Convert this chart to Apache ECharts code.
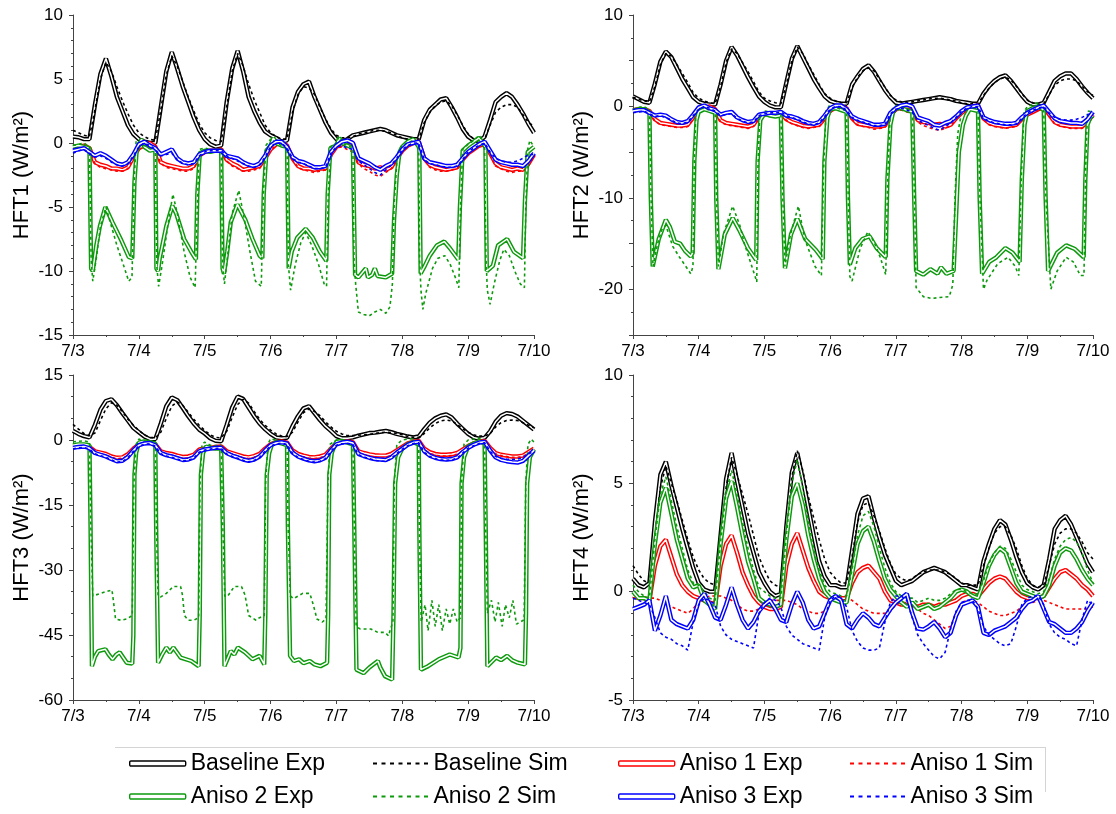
<!DOCTYPE html>
<html>
<head>
<meta charset="utf-8">
<script src="https://cdn.jsdelivr.net/npm/echarts@6/dist/echarts.min.js"></script>
<style>html,body{margin:0;padding:0;background:#fff}#c{width:1116px;height:814px}</style>
</head>
<body>
<div id="c"></div>
<script>
// ---- tick labels ----
const dayLabels = ['7/3','7/4','7/5','7/6','7/7','7/8','7/9','7/10'];
// time grid: hours since 7/3 00:00, every 2 h (85 samples)
const hours = Array.from({length: 85}, (_, i) => i * 2);

// ================= HFT1 =================
const p1BaseExp = [
0.5,0.45,0.3,0.3,3.0,5.4,6.6,5.2,3.6,2.5,1.4,0.7,
0.3,0.1,0.0,0.0,2.8,5.6,7.1,5.8,4.4,3.2,2.0,1.0,
0.3,-0.1,-0.3,-0.2,3.2,5.8,7.2,5.6,3.6,2.5,1.6,0.9,
0.6,0.4,0.1,0.2,2.8,4.0,4.6,4.8,3.6,2.6,1.6,0.8,
0.3,0.1,0.3,0.6,0.7,0.8,0.9,1.0,1.1,1.0,0.8,0.6,
0.5,0.4,0.3,0.3,1.8,2.6,3.0,3.4,3.5,2.8,2.0,1.1,
0.5,0.2,0.1,0.5,1.8,3.2,3.6,3.9,3.6,3.0,2.3,1.5,
0.8];
const p1BaseSim = [
1.0,0.8,0.6,0.5,2.6,5.0,6.3,5.6,4.4,3.3,2.3,1.4,
0.8,0.5,0.3,0.2,2.6,5.3,6.8,6.0,4.8,3.6,2.5,1.5,
0.8,0.4,0.2,0.1,2.8,5.6,7.0,6.0,4.6,3.4,2.4,1.4,
0.8,0.5,0.3,0.3,2.4,3.8,4.4,4.3,3.8,2.8,1.9,1.1,
0.6,0.4,0.4,0.5,0.7,0.8,0.9,1.0,1.0,0.9,0.8,0.6,
0.4,0.3,0.3,0.3,1.6,2.4,2.9,3.2,3.3,2.9,2.2,1.4,
0.7,0.3,0.1,0.3,1.4,2.4,2.8,3.0,3.0,2.8,2.2,1.6,
1.3];
const p1A1Exp = [
-0.3,-0.3,-0.2,-0.4,-1.5,-1.7,-1.8,-2.0,-2.0,-2.1,-1.9,-1.1,
-0.4,-0.2,0.0,-0.3,-1.5,-1.7,-1.8,-1.9,-2.0,-2.0,-1.8,-1.0,
-0.7,-0.6,-0.6,-0.5,-1.3,-1.6,-1.8,-2.1,-2.0,-1.9,-1.8,-1.2,
-0.5,-0.1,0.0,-0.2,-1.2,-1.8,-2.0,-2.0,-2.1,-2.0,-2.0,-0.9,
-0.3,-0.1,0.1,0.0,-1.5,-1.7,-1.8,-2.0,-1.9,-2.1,-1.9,-1.2,
-0.6,-0.2,0.0,0.1,-1.2,-1.7,-1.9,-2.0,-2.1,-2.0,-1.9,-1.3,
-0.8,-0.5,-0.2,-0.1,-0.8,-1.6,-1.9,-2.0,-2.1,-2.0,-2.1,-1.6,
-0.9];
const p1A1Sim = [
-0.5,-0.4,-0.3,-0.5,-1.6,-1.9,-2.0,-2.1,-2.2,-2.2,-2.0,-1.2,
-0.5,-0.3,-0.1,-0.4,-1.6,-1.9,-2.0,-2.1,-2.2,-2.2,-2.0,-1.1,
-0.7,-0.6,-0.5,-0.5,-1.4,-1.8,-2.0,-2.2,-2.2,-2.1,-2.0,-1.3,
-0.5,-0.2,-0.1,-0.3,-1.3,-1.9,-2.1,-2.2,-2.3,-2.2,-2.1,-1.0,
-0.4,-0.3,-0.5,-0.7,-1.6,-2.0,-2.2,-2.5,-2.6,-2.3,-2.0,-1.3,
-0.6,-0.3,-0.1,0.0,-1.3,-1.9,-2.1,-2.2,-2.2,-2.1,-2.0,-1.4,
-0.8,-0.5,-0.3,-0.2,-0.9,-1.8,-2.0,-2.2,-2.3,-2.2,-2.2,-1.8,
-1.0];
const p1A3Exp = [
-0.6,-0.5,-0.4,-0.7,-1.0,-0.8,-1.0,-1.3,-1.6,-1.7,-1.5,-0.9,
-0.1,0.1,-0.2,-0.4,-0.9,-0.7,-0.5,-1.2,-1.5,-1.6,-1.5,-0.9,
-0.7,-0.6,-0.6,-0.6,-1.0,-1.1,-1.2,-1.5,-1.7,-1.8,-1.6,-1.0,
-0.2,0.1,0.1,-0.3,-1.1,-1.4,-1.5,-1.7,-1.9,-1.9,-1.8,-0.7,
-0.2,0.1,0.2,0.0,-1.2,-1.4,-1.6,-1.9,-2.1,-1.8,-1.6,-1.1,
-0.5,-0.1,0.0,0.1,-1.2,-1.5,-1.6,-1.7,-1.8,-1.8,-1.7,-1.2,
-0.7,-0.4,-0.1,0.1,-0.6,-1.3,-1.5,-1.6,-1.7,-1.7,-1.8,-1.4,
-0.8];
const p1A3Sim = [
-0.8,-0.6,-0.5,-0.8,-1.1,-1.0,-1.2,-1.5,-1.7,-1.8,-1.6,-1.0,
-0.3,0.0,-0.2,-0.5,-1.0,-0.9,-0.8,-1.3,-1.6,-1.7,-1.6,-1.0,
-0.7,-0.6,-0.6,-0.6,-1.0,-1.2,-1.4,-1.6,-1.8,-1.9,-1.7,-1.1,
-0.3,0.0,0.0,-0.4,-1.2,-1.5,-1.6,-1.8,-2.0,-2.0,-1.9,-0.8,
-0.3,-0.2,-0.4,-0.5,-1.4,-1.7,-2.0,-2.3,-2.5,-2.1,-1.7,-1.2,
-0.5,-0.2,0.0,0.0,-1.3,-1.6,-1.7,-1.8,-1.9,-1.9,-1.8,-1.3,
-0.7,-0.4,-0.2,0.0,-0.7,-1.2,-1.4,-1.5,-1.5,-1.4,-1.2,-0.9,
-0.9];
// Aniso 2 in HFT1: [hour, value] vertices
const p1A2Exp = [[0,-0.3],[2,-0.2],[4,-0.3],[6,-0.4],[6.6,-9.8],[7.2,-10],[8.5,-8.0],[9.8,-6.5],[11.8,-5.0],[14.4,-6.2],[17.6,-7.6],[20.3,-8.9],[21.6,-9.0],[22.4,-3],[23.2,-0.6],
[24,-0.2],[25,0.3],[26,-0.3],[28,-0.6],[30,-0.5],[30.4,-9.8],[31,-10],[31.6,-9],[34,-6.5],[36.2,-4.9],[37.6,-5.5],[40.5,-7.5],[43.1,-8.5],[44.8,-9.1],[45.3,-4],[46.2,-0.8],[48,-0.6],
[50,-0.7],[52,-0.6],[54,-0.6],[54.5,-9.8],[55,-10.2],[56.2,-8.5],[57.5,-6.2],[59.9,-4.8],[62.8,-6.0],[65.4,-7.5],[68,-8.8],[69,-9.0],[69.5,-4],[70.5,-0.6],[72,-0.2],[73,0.4],[74,0.0],[76,-0.2],[78,-0.3],
[78.1,-0.4],[78.6,-9.8],[79.7,-8.5],[81.7,-7.4],[84.8,-6.7],[87.4,-7.4],[90,-8.5],[92.3,-9.2],[92.8,-4],[93.8,-0.4],[96,-0.2],[97,0.4],[98,0],[100,-0.2],[102,-0.4],
[102.3,-0.5],[102.8,-10.3],[104,-10.5],[106.7,-9.8],[107.5,-10.5],[109,-10.3],[110,-9.8],[111,-10.4],[114,-10.5],[116.3,-10.2],[117,-6],[118,-2.5],[119,-0.7],[120,-0.3],[122,0.1],[124,0.3],[126,-0.3],
[126.2,-0.5],[126.7,-10.2],[128.2,-9.6],[130,-8.8],[132.6,-8.0],[135.3,-7.7],[137.3,-8.2],[140.4,-9.1],[141,-5],[142,-0.6],[144,-0.2],[146,0.1],[148,0.4],[150,-0.2],
[150.3,-0.4],[150.8,-10],[153,-9.6],[154.9,-8.0],[158.2,-7.5],[160.7,-8.5],[164,-9.0],[164.7,-4.5],[165.7,-0.7],[168,-0.3]];
const p1A2Sim = [[0,-0.2],[2,-0.1],[4,0],[6,-0.3],[6.6,-9],[7.2,-10.8],[8.5,-9],[10,-6.5],[12,-5.0],[14,-6.5],[16,-8],[18.5,-9.6],[20.3,-10.8],[21.5,-10.5],[22.3,-3],[23,0.2],[24,0],
[26,-0.2],[28,-0.4],[30,-0.4],[30.5,-9.5],[31.2,-11.2],[32.5,-9.5],[34.5,-6.5],[36.4,-4.0],[38,-5.5],[40.5,-8.5],[42.7,-10.5],[44.5,-11.3],[45.3,-5],[46,-0.5],[48,-0.4],
[50,-0.5],[52,-0.6],[54,-0.5],[54.5,-9.5],[55.2,-11],[56.5,-8.5],[58,-5.5],[60.4,-3.7],[62.5,-6],[64.5,-8.5],[66.5,-10.8],[68.6,-11.2],[69.4,-4],[70.3,-0.2],[72,0.3],[74,0],[76,-0.2],[78,-0.3],
[78.5,-9.5],[79.3,-11.5],[81,-9.5],[83,-7.8],[84.8,-7.0],[87,-8],[89.5,-9.5],[91.5,-11],[92.4,-11.2],[93,-4],[94,-0.3],[96,0],[97,0.5],[98,0],[100,-0.2],[102,-0.4],
[102.4,-9],[103,-11.0],[104,-13.2],[106,-13.4],[108,-13.5],[110,-13.2],[112,-13.0],[114,-13.3],[115.5,-12.8],[116.4,-11],[117,-5],[118,-1.5],[119,-0.5],[120,-0.2],[122,0],[124,0.2],[126,-0.3],
[126.3,-9],[126.8,-11.5],[127.5,-13],[128.5,-11.8],[131,-9.8],[133,-9],[135.5,-8.8],[137.5,-9.5],[139.5,-10.6],[140.6,-11.3],[141.2,-5],[142,-0.5],[144,-0.1],[146,0.2],[148,0.6],[150,-0.2],
[150.5,-9],[151,-11.5],[152,-12.6],[153.5,-11],[155.5,-9.2],[157,-8.3],[159,-8.8],[161,-10],[163,-11],[164.5,-11.3],[165,-5],[165.7,-0.5],[166.5,0.2],[168,-0.3]];

// ================= HFT2 =================
const p2BaseExp = [
1.1,0.8,0.5,0.4,2.5,4.9,6.0,5.4,4.2,3.0,2.0,1.0,
0.5,0.3,0.2,0.2,2.4,5.0,6.5,5.6,4.4,3.2,2.1,1.1,
0.5,0.1,-0.1,-0.1,2.6,5.2,6.6,5.4,4.2,3.0,2.0,1.1,
0.6,0.4,0.3,0.3,2.4,3.3,4.1,4.5,3.8,2.8,1.8,1.0,
0.4,0.3,0.4,0.5,0.6,0.7,0.8,0.9,1.0,0.9,0.8,0.6,
0.5,0.4,0.3,0.3,1.4,2.2,2.8,3.2,3.4,2.8,2.0,1.2,
0.5,0.2,0.2,0.4,1.6,2.8,3.3,3.6,3.6,3.0,2.2,1.5,
0.9];
const p2BaseSim = [
1.0,0.8,0.6,0.5,2.2,4.6,5.8,5.5,4.6,3.6,2.6,1.5,
0.9,0.6,0.4,0.3,2.2,4.8,6.3,5.8,4.8,3.8,2.7,1.6,
0.9,0.6,0.4,0.3,2.4,5.0,6.5,5.8,4.6,3.5,2.4,1.4,
0.9,0.6,0.4,0.4,2.0,3.2,3.9,4.2,3.9,3.0,2.1,1.2,
0.7,0.5,0.4,0.5,0.6,0.7,0.8,0.9,0.9,0.8,0.7,0.6,
0.4,0.3,0.3,0.3,1.2,2.0,2.6,3.0,3.2,2.9,2.2,1.4,
0.7,0.4,0.2,0.3,1.3,2.3,2.8,3.0,3.0,2.8,2.2,1.6,
1.2];
const p2A1Exp = [
-0.4,-0.3,-0.3,-0.5,-1.4,-1.8,-1.9,-2.0,-2.1,-2.1,-2.0,-1.2,
-0.5,-0.2,0.0,-0.3,-1.5,-1.8,-1.9,-2.0,-2.1,-2.2,-2.0,-1.1,
-0.9,-0.8,-0.8,-0.7,-1.4,-1.7,-1.9,-2.1,-2.2,-2.1,-2.0,-1.3,
-0.5,-0.1,0.0,-0.2,-1.3,-1.9,-2.0,-2.1,-2.2,-2.2,-2.1,-1.0,
-0.3,-0.1,0.0,-0.1,-1.5,-1.7,-1.8,-2.0,-1.9,-2.2,-2.0,-1.3,
-0.7,-0.3,0.0,0.1,-1.3,-1.8,-2.0,-2.1,-2.2,-2.1,-2.0,-1.4,
-0.9,-0.6,-0.3,-0.1,-0.9,-1.7,-2.0,-2.1,-2.2,-2.2,-2.2,-1.7,
-0.9];
const p2A1Sim = [
-0.6,-0.5,-0.4,-0.6,-1.6,-2.0,-2.1,-2.2,-2.3,-2.3,-2.2,-1.4,
-0.6,-0.3,-0.1,-0.4,-1.7,-2.0,-2.1,-2.2,-2.3,-2.4,-2.2,-1.3,
-0.9,-0.8,-0.7,-0.7,-1.5,-1.9,-2.1,-2.3,-2.4,-2.3,-2.2,-1.4,
-0.6,-0.2,-0.1,-0.3,-1.4,-2.0,-2.2,-2.3,-2.5,-2.4,-2.3,-1.2,
-0.5,-0.4,-0.6,-0.8,-1.7,-2.1,-2.3,-2.5,-2.6,-2.4,-2.1,-1.4,
-0.7,-0.4,-0.1,0.0,-1.4,-2.0,-2.2,-2.3,-2.4,-2.3,-2.2,-1.5,
-0.9,-0.6,-0.4,-0.2,-1.0,-1.9,-2.1,-2.3,-2.4,-2.4,-2.4,-1.9,
-1.1];
const p2A3Exp = [
-0.5,-0.4,-0.4,-0.7,-1.0,-0.9,-1.0,-1.4,-1.7,-1.8,-1.6,-0.9,
-0.1,0.1,-0.2,-0.4,-0.9,-0.7,-0.6,-1.2,-1.5,-1.7,-1.6,-0.9,
-0.8,-0.7,-0.7,-0.6,-1.0,-1.1,-1.3,-1.6,-1.8,-1.9,-1.7,-1.0,
-0.2,0.1,0.1,-0.3,-1.1,-1.4,-1.6,-1.8,-2.0,-2.0,-1.9,-0.7,
-0.2,0.1,0.2,0.0,-1.2,-1.4,-1.6,-2.0,-2.1,-1.8,-1.6,-1.1,
-0.5,-0.1,0.0,0.1,-1.2,-1.5,-1.7,-1.8,-1.9,-1.9,-1.8,-1.2,
-0.7,-0.4,-0.1,0.1,-0.6,-1.3,-1.6,-1.7,-1.8,-1.8,-1.9,-1.4,
-0.6];
const p2A3Sim = [
-0.7,-0.6,-0.5,-0.8,-1.1,-1.0,-1.2,-1.5,-1.8,-1.9,-1.7,-1.0,
-0.3,0.0,-0.2,-0.5,-1.0,-0.9,-0.8,-1.3,-1.6,-1.8,-1.7,-1.0,
-0.8,-0.7,-0.7,-0.6,-1.0,-1.2,-1.4,-1.7,-1.9,-2.0,-1.8,-1.1,
-0.3,0.0,0.0,-0.4,-1.2,-1.5,-1.7,-1.9,-2.1,-2.1,-2.0,-0.8,
-0.3,-0.2,-0.4,-0.6,-1.5,-1.8,-2.1,-2.4,-2.6,-2.2,-1.8,-1.2,
-0.5,-0.2,0.0,0.0,-1.3,-1.6,-1.8,-1.9,-2.0,-2.0,-1.9,-1.3,
-0.7,-0.4,-0.2,0.0,-0.7,-1.2,-1.4,-1.5,-1.5,-1.4,-1.2,-0.9,
-0.7];
const p2A2Exp = [[0,-0.5],[2,-0.3],[4,-0.3],[6,-0.6],[6.5,-10],[7.2,-17.5],[9.4,-14.5],[12,-12.4],[13.5,-13.2],[15.3,-14.8],[17.2,-15],[19,-15.8],[21.1,-16.4],[21.8,-16],[22.4,-6],[23.2,-1.5],[24,-0.6],
[26,-0.3],[28,-0.5],[30,-0.7],[30.4,-10],[31.2,-17.8],[33.5,-14],[36.4,-12.2],[38.8,-13.5],[42,-15.5],[45,-16.8],[45.5,-6],[46.5,-1.5],[48,-0.8],
[50,-1.0],[52,-1.1],[54,-1.0],[54.6,-10],[55.5,-17.7],[57.7,-14],[60,-12.3],[62.9,-14.5],[66.8,-15.7],[69.3,-16.7],[69.9,-6],[71,-1.2],[72,-0.3],[74,-0.2],[76,-0.4],[78,-0.6],
[78.5,-10],[79.2,-17.3],[81.2,-15.5],[83.8,-14.5],[86.4,-14.2],[89,-15.5],[92.3,-16.5],[92.9,-8],[94,-2],[95,-0.6],[96,-0.2],[98,-0.2],[100,-0.4],[102,-0.6],
[102.7,-10],[103.4,-18],[106,-18.4],[108.6,-17.8],[111.2,-18.3],[112.5,-17.6],[114.5,-18.3],[117.1,-18],[118,-12],[119,-5],[120.5,-2],[121.6,-1],[123,-0.3],[126,-0.5],
[126.6,-10],[127.5,-18.3],[130.1,-17],[132.7,-16.5],[136,-15.5],[138.6,-16],[141.2,-17],[142,-8],[143,-2],[144,-0.5],[146,-0.2],[148,0],[150,-0.4],
[150.7,-10],[151.6,-18],[154.9,-16],[158.2,-15.2],[161.4,-15.6],[164.6,-16.5],[165.2,-8],[166,-2],[167,-1.2],[168,-1.0]];
const p2A2Sim = [[0,-0.3],[2,-0.1],[4,0],[6,-0.4],[6.6,-10],[7.3,-17.5],[9,-15],[10.5,-13.5],[12,-13],[14.5,-15.3],[17,-16.5],[19.3,-17.5],[21.1,-18.3],[21.9,-17.5],[22.4,-6],[23,-0.5],[24,0],
[26,-0.3],[28,-0.4],[30,-0.5],[30.5,-10],[31.2,-17.5],[33,-14],[36.4,-10.9],[39,-13],[40.7,-15],[44.6,-18.6],[45.2,-19.2],[45.6,-7],[46.3,-0.8],[48,-0.5],
[50,-0.6],[52,-0.7],[54,-0.7],[54.7,-10],[55.5,-17.5],[57.5,-14],[60.4,-10.9],[62.7,-14.5],[66.5,-17.5],[68.8,-18.5],[69.6,-7],[70.5,-0.5],[72,0.2],[74,-0.1],[76,-0.3],[78,-0.5],
[78.6,-10],[79.2,-18.6],[80,-19.1],[83,-15.5],[85.8,-13.7],[88,-14.8],[90.3,-16.5],[92.3,-18.4],[93,-8],[94,-0.5],[96,0.1],[98,0],[100,-0.3],[102,-0.6],
[102.8,-10],[103.4,-19.8],[106,-20.8],[109,-21],[112,-20.9],[115.5,-20.8],[116.8,-19.5],[117.6,-10],[118.6,-3],[120,-0.6],[122,-0.1],[124,0.1],[126,-0.5],
[126.7,-10],[128,-20],[129.3,-19],[133.2,-17.2],[137,-16.5],[139.6,-17.5],[140.9,-18.5],[141.8,-8],[142.8,-0.6],[144,0],[146,0.2],[148,0.4],[150,-0.3],
[150.8,-10],[152.6,-20],[154.9,-18],[158.2,-16.5],[160.8,-17],[163.4,-18.5],[164.7,-18.5],[165.3,-7],[166,-0.5],[168,-0.6]];

// ================= HFT3 =================
const p3BaseExp = [
2.1,1.4,0.9,0.6,3.5,7.0,9.0,9.4,8.0,6.2,4.5,2.8,
1.8,0.8,0.2,0.2,3.8,7.8,9.8,9.2,7.4,5.5,3.8,2.4,
1.5,0.4,-0.2,-0.3,3.5,7.5,10.0,9.5,7.5,5.5,3.8,2.5,
1.4,0.6,0.4,0.5,3.2,5.5,7.3,7.8,6.2,4.6,3.2,2.1,
0.9,0.4,0.4,0.6,1.0,1.3,1.6,1.7,1.9,2.1,1.8,1.4,
1.1,0.8,0.6,0.8,2.5,4.0,5.0,5.6,5.9,5.2,3.8,2.6,
1.4,0.6,0.3,0.5,2.0,4.2,5.6,6.2,6.0,5.4,4.4,3.4,
2.4];
const p3BaseSim = [
3.6,2.5,1.5,1.0,1.6,4.5,7.2,8.6,8.0,6.5,4.8,3.4,
2.2,1.2,0.6,0.5,1.8,5.0,7.8,8.8,8.0,6.4,4.8,3.4,
2.2,1.2,0.6,0.5,2.0,5.2,8.2,9.4,8.5,6.6,4.8,3.4,
2.3,1.4,0.9,0.8,1.8,4.2,6.3,7.2,6.6,5.6,4.2,3.0,
2.0,1.4,1.0,1.0,1.1,1.2,1.3,1.5,1.7,1.8,1.7,1.5,
1.2,0.8,0.6,0.6,1.5,2.8,3.8,4.4,4.6,4.4,3.6,2.6,
1.8,1.2,0.9,0.9,1.5,3.0,4.0,4.5,4.6,4.5,4.0,3.4,
2.8];
const p3A1Exp = [
-1.5,-1.4,-1.3,-1.6,-2.6,-2.9,-3.2,-3.8,-4.1,-4.0,-3.3,-2.0,
-1.0,-0.6,-0.5,-1.0,-2.6,-3.0,-3.2,-3.6,-3.9,-3.8,-3.4,-2.2,
-2.0,-1.8,-1.6,-1.5,-2.6,-3.0,-3.4,-3.8,-4.0,-3.7,-3.2,-2.0,
-1.0,-0.5,-0.3,-0.6,-2.4,-3.2,-3.6,-3.9,-4.0,-3.8,-3.4,-2.0,
-0.8,-0.4,-0.3,-0.5,-2.6,-3.0,-3.3,-3.5,-3.6,-3.6,-3.2,-2.4,
-1.6,-0.8,-0.4,-0.2,-2.0,-2.8,-3.2,-3.4,-3.4,-3.3,-3.0,-2.2,
-1.4,-0.8,-0.4,-0.2,-1.8,-3.0,-3.4,-3.6,-3.8,-3.8,-3.6,-2.8,
-2.0];
const p3A1Sim = [
-1.8,-1.6,-1.5,-1.8,-2.8,-3.2,-3.5,-4.0,-4.3,-4.2,-3.6,-2.3,
-1.2,-0.8,-0.7,-1.2,-2.8,-3.3,-3.6,-4.0,-4.3,-4.2,-3.7,-2.5,
-2.1,-1.9,-1.7,-1.7,-2.8,-3.3,-3.7,-4.1,-4.3,-4.0,-3.5,-2.3,
-1.2,-0.7,-0.5,-0.8,-2.6,-3.5,-3.9,-4.2,-4.3,-4.1,-3.7,-2.3,
-1.0,-0.7,-0.7,-0.9,-2.9,-3.4,-3.8,-4.1,-4.3,-4.1,-3.6,-2.7,
-1.8,-1.0,-0.6,-0.4,-2.2,-3.1,-3.5,-3.7,-3.7,-3.6,-3.3,-2.5,
-1.6,-1.0,-0.6,-0.4,-2.0,-3.2,-3.6,-3.8,-4.0,-4.0,-3.8,-3.0,
-2.3];
const p3A3Exp = [
-1.8,-1.6,-1.5,-1.9,-3.0,-3.4,-3.8,-4.4,-4.9,-4.8,-3.9,-2.4,
-1.2,-0.8,-0.7,-1.2,-3.0,-3.5,-3.8,-4.2,-4.6,-4.5,-4.0,-2.6,
-2.2,-2.0,-1.8,-1.8,-3.0,-3.6,-4.0,-4.5,-4.8,-4.5,-3.8,-2.4,
-1.2,-0.7,-0.5,-0.8,-2.9,-3.8,-4.3,-4.7,-4.9,-4.7,-4.1,-2.4,
-1.0,-0.6,-0.4,-0.7,-3.2,-3.7,-4.1,-4.4,-4.5,-4.6,-4.0,-2.9,
-2.0,-1.1,-0.6,-0.4,-2.6,-3.6,-4.1,-4.4,-4.5,-4.4,-4.0,-2.8,
-1.8,-1.1,-0.6,-0.4,-2.4,-4.0,-4.6,-4.9,-5.1,-5.2,-4.8,-3.6,
-2.4];
const p3A3Sim = [
-2.0,-1.8,-1.7,-2.1,-3.2,-3.6,-4.0,-4.6,-5.1,-5.0,-4.1,-2.6,
-1.4,-1.0,-0.9,-1.4,-3.2,-3.7,-4.0,-4.4,-4.8,-4.7,-4.2,-2.8,
-2.3,-2.1,-1.9,-1.9,-3.2,-3.8,-4.2,-4.7,-5.0,-4.7,-4.0,-2.6,
-1.4,-0.9,-0.7,-1.0,-3.1,-4.0,-4.5,-4.9,-5.1,-4.9,-4.3,-2.6,
-1.2,-0.9,-0.8,-1.0,-3.4,-3.9,-4.3,-4.7,-4.9,-4.9,-4.3,-3.1,
-2.1,-1.3,-0.8,-0.6,-2.8,-3.8,-4.3,-4.6,-4.7,-4.6,-4.2,-3.0,
-1.9,-1.3,-0.8,-0.6,-2.6,-3.8,-4.2,-4.4,-4.5,-4.4,-4.0,-3.2,
-2.6];
const p3A2Exp = [[0,-1.2],[2,-1.0],[4,-1.0],[6,-1.2],[6.4,-20],[6.9,-52.2],[8,-50],[9.2,-48.7],[11.8,-48.3],[13,-49.5],[14.4,-50.6],[15.8,-49.5],[17,-49],[19.6,-51.4],[21.6,-51.6],[22,-45],[22.4,-8],[23,-3],[24,-0.6],
[26,-0.3],[28,-0.5],[30,-0.8],[30.3,-20],[31,-51.4],[32.5,-49.5],[34,-47.9],[35.3,-49],[36.6,-47.9],[39.2,-50.2],[43.1,-51],[45.8,-52.2],[46.2,-40],[46.6,-8],[47.4,-3],[48.5,-1.5],
[50,-1.8],[52,-2.0],[54,-2.0],[54.6,-20],[55.2,-52.2],[57.5,-48.7],[58.8,-49.5],[60.1,-47.9],[62.7,-49],[65.4,-50.6],[68,-49.8],[69.7,-51.8],[70.1,-40],[70.6,-8],[71.5,-3],[72.5,-1],[74,-0.5],[76,-0.8],[78,-1.2],
[78.3,-20],[79.1,-49.8],[80.5,-51],[82.4,-50.6],[84,-51.5],[86.3,-51],[88,-51.8],[90.2,-52.2],[92.6,-51.4],[93,-40],[93.4,-8],[94.3,-3],[95.5,-1],[96,-0.4],[98,-0.2],[100,-0.6],[102,-1.0],
[102.5,-20],[103.3,-53],[105.9,-53.8],[108,-52.5],[111.1,-51],[112,-52.5],[113.7,-54.5],[116.3,-55.3],[116.8,-40],[117.4,-10],[118.5,-4],[120,-2],[122,-1],[124,-0.5],[126,-1],
[126.2,-20],[126.8,-53],[129.4,-52.2],[133.3,-50.6],[137.3,-49.5],[140.5,-50.2],[141.2,-48],[141.6,-10],[142.5,-4],[144,-1.5],[146,-0.8],[148,-0.3],[150,-0.8],
[150.4,-20],[151,-52.2],[154.2,-50.2],[156,-50.8],[158.2,-49.8],[160,-50.8],[162.1,-51.4],[164.7,-51.8],[165.1,-40],[165.5,-10],[166.5,-4],[168,-2.2]];
const p3A2Sim = [[0,-0.4],[2,-0.3],[4,-0.2],[6,-0.5],[6.5,-20],[7.2,-36],[9.5,-35.5],[12,-35],[14.2,-34.6],[14.8,-37.5],[15.5,-41.3],[17.5,-41.6],[19.6,-41.3],[21.6,-40.5],[22.2,-10],[23,-1],[24,0.2],
[26,-0.2],[28,-0.3],[30,-0.5],[30.4,-20],[31,-36],[32,-36.2],[34,-35.4],[36.6,-33.8],[39.2,-33.8],[39.9,-35.8],[40.6,-40.5],[42,-41.6],[44,-41.6],[45.8,-41],[46.3,-10],[47,-1],[48,-0.5],
[50,-1.2],[52,-1.3],[54,-1.2],[54.6,-20],[55.3,-36],[56.2,-36.2],[58.8,-33.8],[61.4,-33.8],[62.7,-35.8],[64,-40.5],[66.7,-41.6],[68,-41],[69.7,-40.5],[70.2,-10],[71,-1],[72,0.3],[74,0],[76,-0.4],[78,-0.7],
[78.4,-20],[79.2,-36],[80.4,-36.6],[83.7,-35.4],[86.3,-35.4],[87.6,-38.1],[88.9,-41.3],[90.9,-42],[92.2,-41.3],[92.9,-10],[93.6,-1],[96,0],[98,0],[100,-0.4],[102,-0.8],
[102.5,-20],[103.2,-43],[104.6,-43.6],[108.5,-43.6],[111.1,-44.4],[113.7,-44.4],[115,-45.2],[115.7,-43.6],[116.6,-42],[117.1,-10],[118,-1],[120,0],[122,0.2],[124,0.3],[126,-0.5],
[126.2,-20],[126.9,-42],[128.3,-38],[129.4,-44],[130.8,-37],[132,-43],[133.3,-38],[134.6,-44],[136,-39],[137.3,-42.5],[138.6,-39],[140,-42],[141.2,-41],[141.6,-10],[142.5,-1],[144,0],[146,0.2],[148,0.4],[150,-0.3],
[150.4,-20],[151,-40],[152.5,-37],[153.8,-42],[155,-37.5],[156.4,-43],[157.6,-38],[159,-41],[160.3,-37],[161.6,-42.5],[163,-42],[164.4,-41.5],[165,-10],[165.8,-1],[167,0.2],[168,-0.5]];

// ================= HFT4 =================
const p4BaseExp = [
0.6,0.3,0.2,0.4,3.2,5.4,6.0,4.9,3.9,2.9,2.0,1.1,
0.4,0.1,0.0,0.0,2.6,5.2,6.4,5.1,3.9,2.7,1.8,0.9,
0.4,0.0,-0.2,-0.1,3.0,5.5,6.4,5.2,3.9,2.6,1.4,0.7,
0.3,0.3,0.2,0.2,1.9,3.6,4.3,4.4,3.4,2.5,1.7,1.1,
0.5,0.3,0.4,0.5,0.7,0.9,1.0,1.1,1.0,0.9,0.7,0.5,
0.3,0.3,0.2,0.1,1.4,2.2,2.9,3.3,3.1,2.4,1.6,0.9,
0.4,0.2,0.1,0.3,1.5,2.9,3.3,3.5,3.1,2.5,1.9,1.3,
0.9];
const p4BaseSim = [
1.2,0.8,0.5,0.4,2.5,4.8,5.8,5.0,4.2,3.3,2.4,1.6,
1.0,0.6,0.4,0.3,2.3,4.8,6.2,5.4,4.5,3.6,2.6,1.6,
1.0,0.5,0.3,0.2,2.6,5.3,6.5,5.6,4.4,3.4,2.4,1.5,
0.9,0.6,0.4,0.4,1.6,3.2,4.0,4.1,3.5,2.8,2.0,1.3,
0.8,0.6,0.5,0.6,0.8,0.9,1.0,1.0,1.0,0.9,0.8,0.6,
0.4,0.3,0.3,0.3,1.2,2.0,2.7,3.0,3.0,2.6,2.0,1.2,
0.6,0.3,0.2,0.3,1.2,2.2,2.7,2.9,2.9,2.7,2.3,1.8,
1.5];
const p4A1Exp = [
-0.2,-0.3,-0.3,-0.4,1.2,2.1,2.4,1.6,0.8,0.3,0.0,-0.2,
-0.3,-0.4,-0.5,-0.6,1.2,2.2,2.6,1.8,0.9,0.3,-0.2,-0.5,
-0.7,-0.8,-0.8,-0.7,1.2,2.2,2.7,1.9,1.1,0.5,0.0,-0.2,
-0.3,-0.3,-0.3,-0.3,0.4,0.9,1.1,1.2,0.9,0.6,0.0,-0.4,
-0.5,-0.6,-0.6,-0.6,-0.7,-0.6,-0.6,-0.7,-0.6,-0.6,-0.5,-0.4,
-0.2,-0.1,-0.1,-0.2,0.1,0.4,0.6,0.7,0.6,0.3,0.0,-0.2,
-0.3,-0.3,-0.3,-0.2,0.2,0.6,0.9,1.0,0.8,0.6,0.3,0.1,
-0.2];
const p4A1Sim = [
-0.3,-0.3,-0.3,-0.3,-0.3,-0.4,-0.5,-0.7,-0.8,-0.9,-1.0,-0.8,
-0.4,-0.3,-0.2,-0.2,-0.2,-0.3,-0.4,-0.6,-0.8,-0.9,-0.9,-0.8,
-0.5,-0.4,-0.4,-0.4,-0.4,-0.5,-0.6,-0.8,-0.9,-1.0,-1.0,-0.9,
-0.5,-0.4,-0.3,-0.3,-0.4,-0.6,-0.8,-0.9,-1.0,-1.0,-1.0,-0.9,
-0.6,-0.5,-0.5,-0.6,-0.8,-1.0,-1.1,-1.3,-1.5,-1.7,-1.6,-1.0,
-0.5,-0.4,-0.4,-0.5,-0.7,-0.9,-1.0,-1.1,-1.1,-1.0,-0.9,-0.7,
-0.5,-0.5,-0.4,-0.4,-0.5,-0.6,-0.7,-0.8,-0.8,-0.8,-0.8,-0.8,
-0.7];
const p4A2Exp = [
0.0,-0.3,-0.3,-0.4,2.2,4.1,4.8,3.6,2.4,1.5,0.6,0.2,
0.3,-0.4,-0.6,-0.8,2.2,4.3,5.1,3.9,2.6,1.4,0.6,-0.3,
-0.5,-0.6,-0.7,-0.6,2.4,4.4,5.0,4.0,2.6,1.5,0.6,0.0,
-0.3,-0.4,-0.5,-0.5,0.8,2.2,2.8,3.0,2.3,1.4,0.6,0.1,
-0.2,-0.5,-0.7,-0.5,-0.8,-0.7,-0.6,-0.8,-0.7,-0.5,-0.3,0.0,
0.1,0.0,-0.2,-0.3,0.4,1.2,1.7,2.0,1.8,1.1,0.4,0.0,
-0.1,-0.2,-0.3,-0.2,0.3,1.2,1.8,2.0,1.9,1.5,1.0,0.6,
0.3];
const p4A2Sim = [
0.3,0.0,-0.2,-0.3,2.4,4.5,5.3,4.2,3.0,2.0,1.0,0.4,
0.3,0.0,-0.3,-0.4,2.3,4.6,5.6,4.5,3.2,2.0,1.0,0.2,
0.0,-0.2,-0.3,-0.3,2.6,5.0,6.1,4.8,3.3,2.0,1.0,0.3,
0.0,-0.1,-0.2,-0.2,1.0,2.6,3.5,3.7,3.0,2.0,1.1,0.4,
0.0,-0.2,-0.3,-0.3,-0.5,-0.4,-0.3,-0.4,-0.4,-0.3,-0.1,0.1,
0.1,0.0,-0.1,-0.1,0.5,1.3,1.8,2.1,2.0,1.5,0.9,0.3,
0.1,0.0,-0.1,0.0,0.6,1.5,2.1,2.4,2.5,2.3,1.8,1.0,
0.4];
const p4A3Exp = [
-0.8,-0.7,-0.6,-0.4,-1.8,-1.1,-0.2,-1.3,-1.5,-1.6,-1.7,-1.3,
-0.4,-0.1,-0.6,-1.2,-1.3,-0.6,0.2,-0.6,-1.3,-1.7,-1.4,-0.9,
-0.6,-0.4,-0.8,-1.3,-1.4,-0.6,0.0,-0.5,-1.3,-1.7,-1.6,-1.0,
-0.4,-0.2,-0.4,-1.5,-1.7,-1.3,-1.0,-1.2,-1.5,-1.6,-1.2,-0.8,
-0.5,-0.3,-0.1,-1.0,-1.7,-1.75,-1.6,-1.4,-1.7,-2.1,-1.9,-1.1,
-0.6,-0.5,-0.4,-0.7,-1.9,-2.0,-1.8,-1.7,-1.6,-1.4,-1.2,-0.8,
-0.5,-0.4,-0.2,-0.8,-1.4,-1.5,-1.7,-1.9,-1.9,-1.7,-1.4,-0.9,
-0.5];
const p4A3Sim = [
-0.3,-0.4,-0.5,-0.6,-1.2,-1.9,-2.1,-2.2,-2.4,-2.5,-2.7,-1.4,
-0.6,-0.3,-0.4,-0.6,-1.6,-2.0,-2.2,-2.3,-2.4,-2.5,-2.6,-1.0,
-0.5,-0.3,-0.4,-0.7,-1.6,-2.0,-2.2,-2.4,-2.5,-2.6,-2.7,-1.2,
-0.4,-0.2,-0.3,-0.7,-1.8,-2.3,-2.6,-2.7,-2.7,-2.6,-1.4,-0.5,
-0.2,-0.2,-0.4,-1.2,-2.0,-2.4,-2.7,-3.0,-3.1,-2.8,-1.7,-0.9,
-0.5,-0.4,-0.4,-0.8,-1.6,-2.0,-2.2,-2.4,-2.5,-2.4,-1.6,-0.6,
-0.3,-0.2,-0.2,-0.6,-1.5,-1.9,-2.1,-2.2,-2.4,-2.5,-1.3,-0.4,
-0.6];

// ---------------- build ----------------
const gridArrays = {p1BaseExp,p1BaseSim,p1A1Exp,p1A1Sim,p1A3Exp,p1A3Sim,p2BaseExp,p2BaseSim,p2A1Exp,p2A1Sim,p2A3Exp,p2A3Sim,
  p3BaseExp,p3BaseSim,p3A1Exp,p3A1Sim,p3A3Exp,p3A3Sim,p4BaseExp,p4BaseSim,p4A1Exp,p4A1Sim,p4A2Exp,p4A2Sim,p4A3Exp,p4A3Sim};
for (const k in gridArrays) if (gridArrays[k].length !== 85) throw new Error(k + ' has ' + gridArrays[k].length);

function toData(arr) {
  return Array.isArray(arr[0]) ? arr : arr.map((v, i) => [hours[i], v]);
}

const FONT = 'Liberation Sans, Arial, Helvetica, sans-serif';
const GREEN = '#0c9a0c', RED = '#ff0000', BLUE = '#0000ff', BLACK = '#000000';
const AX = '#444';

const panels = [
  {base:[p1BaseExp,p1BaseSim], a1:[p1A1Exp,p1A1Sim], a2:[p1A2Exp,p1A2Sim], a3:[p1A3Exp,p1A3Sim]},
  {base:[p2BaseExp,p2BaseSim], a1:[p2A1Exp,p2A1Sim], a2:[p2A2Exp,p2A2Sim], a3:[p2A3Exp,p2A3Sim]},
  {base:[p3BaseExp,p3BaseSim], a1:[p3A1Exp,p3A1Sim], a2:[p3A2Exp,p3A2Sim], a3:[p3A3Exp,p3A3Sim]},
  {base:[p4BaseExp,p4BaseSim], a1:[p4A1Exp,p4A1Sim], a2:[p4A2Exp,p4A2Sim], a3:[p4A3Exp,p4A3Sim]}
];
const names = {base:['Baseline Exp','Baseline Sim'], a1:['Aniso 1 Exp','Aniso 1 Sim'], a2:['Aniso 2 Exp','Aniso 2 Sim'], a3:['Aniso 3 Exp','Aniso 3 Sim']};
const colors = {base:BLACK, a1:RED, a2:GREEN, a3:BLUE};

const grids = [
  {left:73, top:15, width:461, height:320},
  {left:633, top:15, width:460, height:320},
  {left:73, top:375, width:461, height:325},
  {left:633, top:375, width:460, height:325}
];

const xAxes = grids.map((g, i) => ({
  gridIndex:i, type:'value', min:0, max:168, interval:24,
  axisLine:{onZero:false, lineStyle:{color:AX, width:1}},
  axisTick:{length:4, lineStyle:{color:AX}},
  minorTick:{show:true, splitNumber:2, length:2, lineStyle:{color:AX}},
  splitLine:{show:false}, minorSplitLine:{show:false},
  axisLabel:{formatter:v => dayLabels[Math.round(v/24)], fontSize:17, color:'#000', margin:8, fontFamily:FONT}
}));

function yAxisBase(gi, name, min, max, interval, minorSplit, formatter) {
  const label = {fontSize:17, color:'#000', margin:10, fontFamily:FONT};
  if (formatter) label.formatter = formatter;
  return {
    gridIndex:gi, type:'value', position:'left', min, max, interval,
    name, nameLocation:'middle', nameGap:40,
    nameTextStyle:{fontSize:22, color:'#000', fontFamily:FONT},
    axisLine:{show:true, onZero:false, lineStyle:{color:AX, width:1}},
    axisTick:{show:true, length:4, lineStyle:{color:AX}},
    minorTick:{show:true, splitNumber:minorSplit, length:2, lineStyle:{color:AX}},
    splitLine:{show:false}, minorSplitLine:{show:false},
    axisLabel:label
  };
}
const yAxes = [
  yAxisBase(0, 'HFT1 (W/m²)', -15, 10, 5, 5),
  yAxisBase(1, 'HFT2 (W/m²)', -25, 10, 5, 2, v => (Math.abs(v % 10) < 1e-9 ? String(v) : '')),
  yAxisBase(2, 'HFT3 (W/m²)', -60, 15, 15, 3),
  yAxisBase(3, 'HFT4 (W/m²)', -5, 10, 5, 5)
];

const series = [];
panels.forEach((p, i) => {
  ['base','a1','a2','a3'].forEach(k => {
    const c = colors[k];
    const common = {type:'line', xAxisIndex:i, yAxisIndex:i, symbol:'none', showSymbol:false, animation:false, smooth:false};
    series.push(Object.assign({}, common, {name:names[k][0], data:toData(p[k][0]), lineStyle:{color:c, width:4.4}, itemStyle:{color:c}}));
    series.push(Object.assign({}, common, {name:names[k][0] + ' core', data:toData(p[k][0]), lineStyle:{color:'#ffffff', width:1.5}, itemStyle:{color:'#fff'}, silent:true}));
    series.push(Object.assign({}, common, {name:names[k][1], data:toData(p[k][1]), lineStyle:{color:c, width:1.6, type:[3,3]}, itemStyle:{color:c}}));
  });
});

// legend icons
const DASH_ICON = 'path://M0,0h4v2h-4zM8.5,0h4v2h-4zM17,0h4v2h-4zM25.5,0h4v2h-4zM34,0h4v2h-4zM42.5,0h4v2h-4zM51,0h4v2h-4z';
function expItem(name, c) { return {name, icon:'roundRect', itemStyle:{color:'#ffffff', borderColor:c, borderWidth:1.4}}; }
function simItem(name, c) { return {name, icon:DASH_ICON, itemStyle:{color:c, borderWidth:0}}; }
const legendCols = [
  {left:129, h:5, data:[expItem('Baseline Exp', BLACK), expItem('Aniso 2 Exp', GREEN)]},
  {left:373, h:2, data:[simItem('Baseline Sim', BLACK), simItem('Aniso 2 Sim', GREEN)]},
  {left:618, h:5, data:[expItem('Aniso 1 Exp', RED), expItem('Aniso 3 Exp', BLUE)]},
  {left:850, h:2, data:[simItem('Aniso 1 Sim', RED), simItem('Aniso 3 Sim', BLUE)]}
];
const legends = legendCols.map(col => ({
  orient:'vertical', left:col.left, top:752, itemGap:10, itemWidth:56, itemHeight:col.h, padding:0,
  selectedMode:false, textStyle:{fontSize:23, color:'#000', fontFamily:FONT}, data:col.data
}));

const chart = echarts.init(document.getElementById('c'), null, {renderer:'canvas'});
chart.setOption({
  animation:false,
  backgroundColor:'#ffffff',
  grid:grids,
  xAxis:xAxes,
  yAxis:yAxes,
  legend:legends,
  series,
  graphic:[
    {type:'line', shape:{x1:115, y1:747.5, x2:1045, y2:747.5}, style:{stroke:'#d4d4d4', lineWidth:1}, silent:true},
    {type:'line', shape:{x1:1045.5, y1:747, x2:1045.5, y2:792}, style:{stroke:'#d4d4d4', lineWidth:1}, silent:true}
  ]
});
</script>
</body>
</html>
